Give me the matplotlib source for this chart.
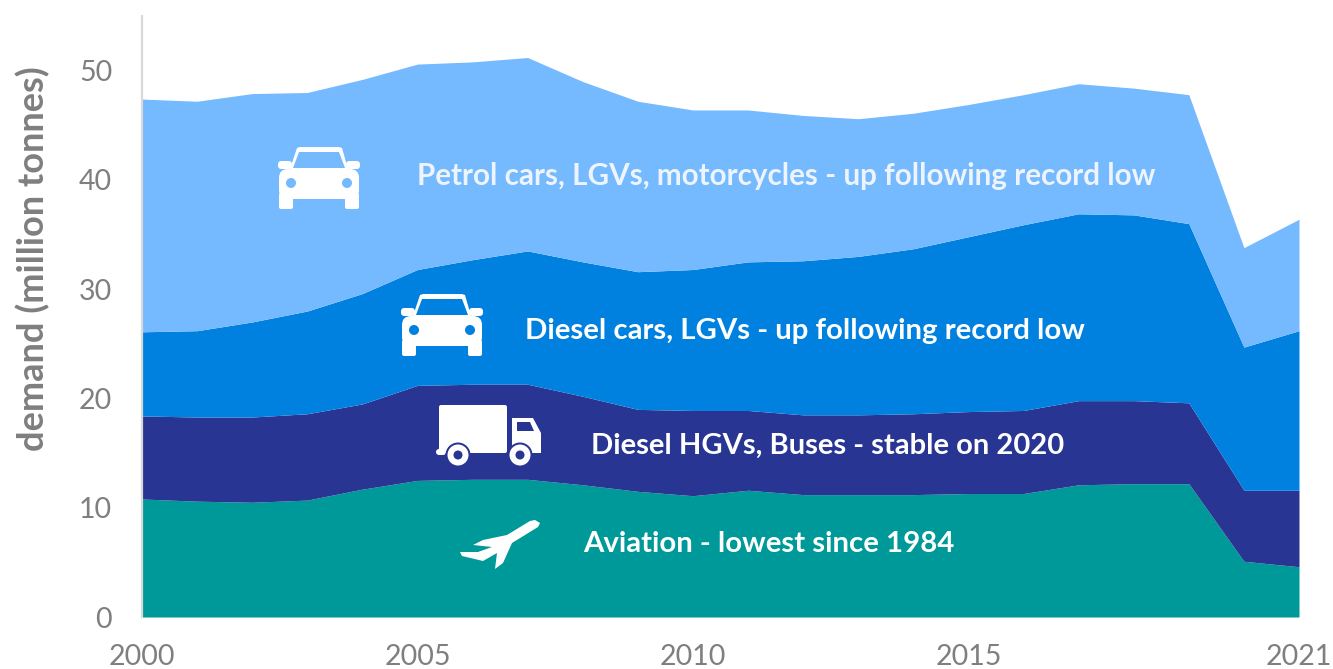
import matplotlib
matplotlib.use("Agg")
import matplotlib.pyplot as plt
from matplotlib.patches import Polygon, Circle, FancyBboxPatch

plt.rcParams['font.family'] = ['Lato', 'DejaVu Sans']

years = list(range(2000, 2022))
# top edge of each band (stacked totals)
aviation = [10.8, 10.6, 10.5, 10.7, 11.7, 12.5, 12.6, 12.6, 12.1, 11.5, 11.1,
            11.6, 11.2, 11.2, 11.2, 11.3, 11.3, 12.1, 12.2, 12.2, 5.1, 4.6]
diesel_hgv = [18.4, 18.3, 18.3, 18.6, 19.5, 21.2, 21.3, 21.3, 20.2, 19.0, 18.9,
              18.9, 18.5, 18.5, 18.6, 18.8, 18.9, 19.8, 19.8, 19.6, 11.6, 11.6]
diesel_cars = [26.1, 26.2, 27.0, 28.0, 29.6, 31.8, 32.7, 33.5, 32.5, 31.6, 31.8,
               32.5, 32.6, 33.0, 33.7, 34.8, 35.9, 36.9, 36.8, 36.0, 24.7, 26.2]
petrol = [47.4, 47.2, 47.9, 48.0, 49.2, 50.6, 50.8, 51.2, 49.0, 47.2, 46.4,
          46.4, 45.9, 45.6, 46.1, 46.9, 47.8, 48.8, 48.4, 47.8, 33.8, 36.4]

x_ticks = [2000, 2005, 2010, 2015, 2021]
y_ticks = [0, 10, 20, 30, 40, 50]

c_petrol = "#75B9FF"
c_cars = "#0080DF"
c_hgv = "#283593"
c_avi = "#009999"
grey = "#7F7F7F"

W, H = 1333, 669
fig = plt.figure(figsize=(W / 100, H / 100), dpi=100)
ax = fig.add_axes([142 / W, 1 - 617 / H, (1299 - 142) / W, (617 - 16) / H])

ax.fill_between(years, 0, aviation, color=c_avi, lw=0)
ax.fill_between(years, aviation, diesel_hgv, color=c_hgv, lw=0)
ax.fill_between(years, diesel_hgv, diesel_cars, color=c_cars, lw=0)
ax.fill_between(years, diesel_cars, petrol, color=c_petrol, lw=0)

ax.set_xlim(2000, 2021)
ax.set_ylim(0, 55)
ax.set_xticks(x_ticks)
ax.set_yticks(y_ticks)
ax.tick_params(length=0, labelsize=20.5, labelcolor=grey)
ax.tick_params(axis="x", pad=19.5)
ax.tick_params(axis="y", pad=21.5)
for s in ["top", "right", "bottom"]:
    ax.spines[s].set_visible(False)
ax.spines["left"].set_color("#D9D9D9")
ax.spines["left"].set_linewidth(1.6)
ax.set_ylabel("demand (million tonnes)", fontsize=26, fontweight="bold", color=grey)
ax.yaxis.set_label_coords(-0.0795, 0.597)

# overlay in picture pixels for the icons and band labels
ov = fig.add_axes([0, 0, 1, 1], facecolor="none")
ov.set_xlim(0, W)
ov.set_ylim(H, 0)
ov.axis("off")


def box(x, y, w, h, r, fc="white"):
    ov.add_patch(FancyBboxPatch((x, y), w, h, boxstyle=f"round,pad=0,rounding_size={r}", fc=fc, ec="none"))


def car(x0, y0, bg):
    def pts(lst):
        return [(x0 + a, y0 + b) for a, b in lst]
    box(x0, y0 + 14, 14, 8, 3.5)
    box(x0 + 68, y0 + 14, 14, 8, 3.5)
    ov.add_patch(Polygon(pts([(12, 22), (19, 1), (22, 0), (61, 0), (64, 1), (70, 22)]), fc="white", ec="none"))
    ov.add_patch(Polygon(pts([(15, 21), (21, 5), (61, 5), (67, 21)]), fc=bg, ec="none"))
    box(x0 + 1, y0 + 22, 80, 30, 9)
    box(x0 + 1, y0 + 46, 14, 16, 2)
    box(x0 + 67, y0 + 46, 14, 16, 2)
    ov.add_patch(Circle((x0 + 13, y0 + 36), 5, fc=bg, ec="none"))
    ov.add_patch(Circle((x0 + 69, y0 + 36), 5, fc=bg, ec="none"))


car(278, 147, c_petrol)
car(401, 294, c_cars)

# lorry
box(439, 405, 68, 48, 2)
box(436, 449, 10, 6, 3)
ov.add_patch(Polygon([(512, 418), (533, 418), (541, 433), (541, 453), (512, 453)], fc="white", ec="none"))
ov.add_patch(Polygon([(517, 422), (530, 422), (534, 431), (517, 431)], fc=c_hgv, ec="none"))
for cx in (458, 520):
    ov.add_patch(Circle((cx, 455), 12.5, fc=c_hgv, ec="none"))
    ov.add_patch(Circle((cx, 455), 10.5, fc="white", ec="none"))
    ov.add_patch(Circle((cx, 455), 4.5, fc=c_hgv, ec="none"))

# plane
plane = [(535, 520), (530, 521), (507, 535), (483, 540), (473, 545), (492, 547),
         (478, 552), (460, 552), (462, 556), (483, 561), (497, 553), (495, 569),
         (503, 563), (512, 543), (538, 527), (540, 523)]
ov.add_patch(Polygon(plane, fc="white", ec="none", joinstyle="round"))

ov.text(417, 175.5, "Petrol cars, LGVs, motorcycles - up following record low", color="#EEF4FC",
        fontsize=21.3, fontweight="bold", va="center", ha="left")
ov.text(525, 331.5, "Diesel cars, LGVs - up following record low", color="white",
        fontsize=21.2, fontweight="bold", va="center", ha="left")
ov.text(591, 446, "Diesel HGVs, Buses - stable on 2020", color="white",
        fontsize=21.0, fontweight="bold", va="center", ha="left")
ov.text(583, 544.5, "Aviation - lowest since 1984", color="white",
        fontsize=21.2, fontweight="bold", va="center", ha="left")

fig.savefig("out.png", dpi=100)
